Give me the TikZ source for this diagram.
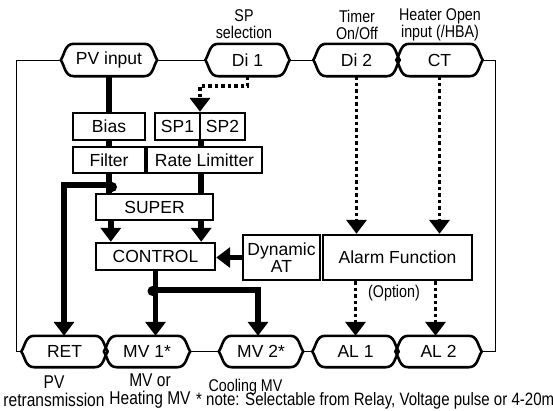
\documentclass[tikz,border=0pt]{standalone}
\usepackage{fontspec}
\setmainfont{Liberation Sans}
\newfontfamily\narrowsans{Liberation Sans}[FakeStretch=0.84]
\usetikzlibrary{arrows.meta,calc}

\newcommand\mainlbl{\fontsize{17.5}{18}\selectfont}
\newcommand\smalllbl{\narrowsans\fontsize{17}{17}\selectfont}
\newcommand\biglbl{\narrowsans\fontsize{18.5}{17.5}\selectfont}
\newcommand\notelbl{\narrowsans\fontsize{17.9}{17}\selectfont}

% Outline of a terminal: straight top and bottom, sides that run out to a
% point at mid height (the node's west/east anchors sit on those points).
\newcommand\termoutline[1]{%
  \draw[termline] let \p1=(#1.north west), \p2=(#1.south east) in
    (\x1+13pt,\y1) -- (\x2-13pt,\y1)
    .. controls (\x2-4pt,\y1) and (\x2-4pt,{(\y1+\y2)/2+6pt}) .. (\x2,{(\y1+\y2)/2})
    .. controls (\x2-4pt,{(\y1+\y2)/2-6pt}) and (\x2-4pt,\y2) .. (\x2-13pt,\y2)
    -- (\x1+13pt,\y2)
    .. controls (\x1+4pt,\y2) and (\x1+4pt,{(\y1+\y2)/2-6pt}) .. (\x1,{(\y1+\y2)/2})
    .. controls (\x1+4pt,{(\y1+\y2)/2+6pt}) and (\x1+4pt,\y1) .. cycle;}

\tikzset{
  blk/.style={draw, line width=2.4pt, inner sep=0pt, font=\mainlbl, align=center},
  term/.style={inner sep=0pt, font=\mainlbl},
  termline/.style={line width=2.6pt, line join=round},
  wire/.style={line width=1pt},
  heavy/.style={line width=5.5pt},
  heavyarrow/.style={heavy, -{Triangle[width=20pt,length=14pt]}},
  dots/.style={line width=3.5pt, dash pattern=on 3.5pt off 3pt},
  dotarrow/.style={dots, -{Triangle[width=20pt,length=14pt]}},
  caption/.style={inner sep=0pt, align=center, font=\smalllbl},
}

\begin{document}
\begin{tikzpicture}[x=1pt,y=-1pt]
\fill[white] (0,0) rectangle (553,410);
\useasboundingbox (0,0) rectangle (553,410);

% terminals, top row
\node[term, minimum width=96pt, minimum height=32pt] (pv)  at (109,60)   {PV input};
\node[term, minimum width=84pt, minimum height=32pt] (di1) at (247.5,60) {Di 1};
\node[term, minimum width=86pt, minimum height=32pt] (di2) at (356.5,60) {Di 2};
\node[term, minimum width=86pt, minimum height=32pt] (ct)  at (439.5,60) {\raisebox{-2pt}{CT}};
% terminals, bottom row
\node[term, minimum width=86pt, minimum height=31pt] (ret) at (64.5,351.5) {\raisebox{-1pt}{RET}};
\node[term, minimum width=86pt, minimum height=31pt] (mv1) at (147,351.5) {MV 1*};
\node[term, minimum width=84pt, minimum height=31pt] (mv2) at (261,351.5) {MV 2*};
\node[term, minimum width=86pt, minimum height=31pt] (al1) at (355.5,351.5) {AL 1};
\node[term, minimum width=86pt, minimum height=31pt] (al2) at (438.5,351.5) {AL 2};
\foreach \t in {pv,di1,di2,ct,ret,mv1,mv2,al1,al2} {\termoutline{\t}}

% function blocks
\node[blk, minimum width=72pt,  minimum height=27pt] (bias)    at (109,126.5)   {Bias};
\node[blk, minimum width=45pt,  minimum height=27pt] (sp1)     at (177.5,126.5) {SP1};
\node[blk, minimum width=45pt,  minimum height=27pt] (sp2)     at (222.5,126.5) {SP2};
\node[blk, minimum width=72pt,  minimum height=26pt] (filter)  at (109,160)     {Filter};
\node[blk, minimum width=115pt, minimum height=26pt] (rate)    at (204.5,160)   {Rate Limitter};
\node[blk, minimum width=117pt, minimum height=26pt] (super)   at (154.5,207)   {SUPER};
\node[blk, minimum width=119pt, minimum height=27pt] (control) at (155.5,256.5) {CONTROL};
\node[blk, minimum width=77pt,  minimum height=45pt, font=\fontsize{17.5}{17}\selectfont] (dyn) at (281.5,257.5) {Dynamic\\AT};
\node[blk, minimum width=149pt, minimum height=45pt] (alarm)   at (397.5,257.5) {Alarm Function};

% thin ring linking the terminals
\coordinate (lb) at (16,351.5);
\coordinate (rb) at (495,351.5);
\draw[wire] (pv.west) -| (lb) -- (ret.west);
\draw[wire] (ct.east) -| (rb) -- (al2.east);
\draw[wire] (pv.east) -- (di1.west);
\draw[wire] (di1.east) -- (di2.west);
\draw[wire] (mv1.east) -- (mv2.west);
\draw[wire] (mv2.east) -- (al1.west);

% PV path
\coordinate (jf) at (109,185);
\coordinate (retin) at (64,185);
\draw[heavy] (pv.south) -- (bias.north);
\draw[heavy] (bias.south) -- (filter.north);
\draw[heavy] (filter.south) -- (filter.south |- super.north);
\draw[heavyarrow] (jf) -- (retin) -- (retin |- ret.north);
\fill ([xshift=3pt,yshift=-2pt]jf) circle (5pt);

% SP path
\draw[heavy] (sp1.south east) -- (sp1.south east |- rate.north);
\draw[heavy] (sp1.south east |- rate.south) -- (sp1.south east |- super.north);

% SUPER -> CONTROL
\draw[heavyarrow] ([xshift=16pt]super.south west) -- ([xshift=16pt]super.south west |- control.north);
\draw[heavyarrow] (sp1.south east |- super.south) -- (sp1.south east |- control.north);
\draw[heavyarrow] (dyn.west) -- (dyn.west -| control.east);

% CONTROL -> outputs
\coordinate (jc) at (155.5,290);
\coordinate (jm) at (258,290);
\draw[heavyarrow] (control.south) -- (control.south |- mv1.north);
\draw[heavyarrow] (jc) -- (jm) -- (jm |- mv2.north);
\fill ([xshift=-3pt,yshift=-1pt]jc) circle (5pt);

% digital inputs and alarm outputs
\coordinate (spin) at (200,86);
\draw[dotarrow] (di1.south) |- (spin) -- (spin |- sp1.north east);
\draw[dotarrow] (di2.south) -- (di2.south |- alarm.north);
\draw[dotarrow] (ct.south) -- (ct.south |- alarm.north);
\draw[dotarrow] (al1.north |- alarm.south) -- (al1.north);
\draw[dotarrow] ([xshift=-3pt]al2.north |- alarm.south) -- ([xshift=-3pt]al2.north);

% captions
\node[caption] (lsp)    at (244,24.5) {SP\\selection};
\node[caption] (ltimer) at (357,24.5) {Timer\\On/Off};
\node[caption] (lheat)  at (440,24.5) {Heater Open\\input (/HBA)};
\node[caption] (lopt)   at (394,293)  {(Option)};
\node[caption, font=\biglbl] (lpv) at (54,391)  {PV\\retransmission};
\node[caption, font=\biglbl] (lmv) at (150,391) {MV or\\Heating MV};
\node[caption] (lcool)  at (245.5,387.5) {Cooling MV};
\node[caption, anchor=west, font=\notelbl] (lnote) at (196,401) {* note: Selectable from Relay, Voltage pulse or 4-20mA};
\end{tikzpicture}
\end{document}
